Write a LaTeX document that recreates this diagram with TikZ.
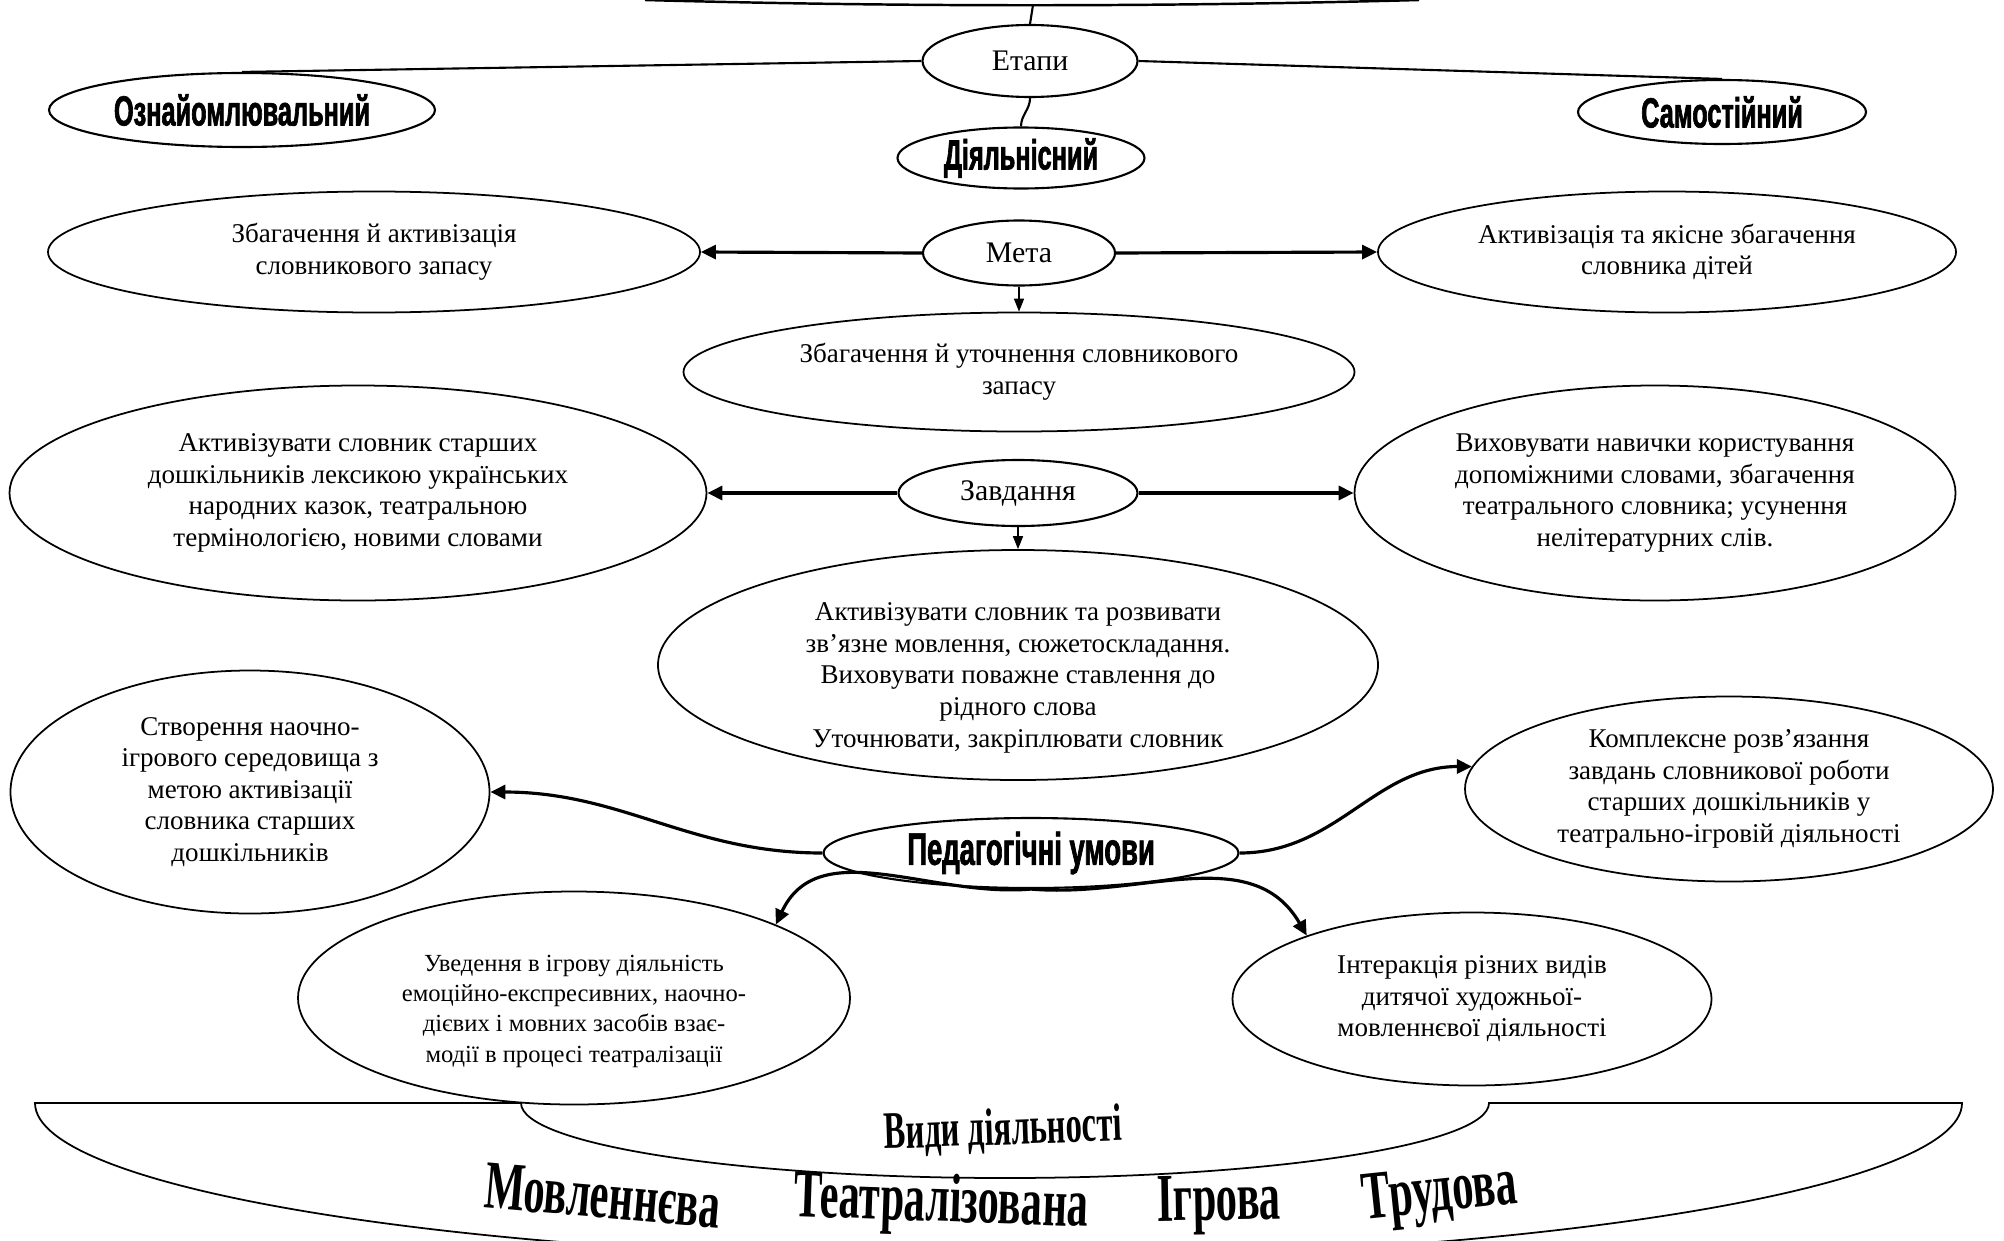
\documentclass[tikz,border=0pt]{standalone}
\usepackage{fontspec}
\setmainfont{Liberation Serif}
\newfontfamily\headfont[FakeStretch=0.6,BoldFeatures={FakeBold=1.5}]{Liberation Sans}
\newfontfamily\artfont[FakeStretch=0.62]{Liberation Serif}
\usetikzlibrary{shapes.geometric}
\usetikzlibrary{arrows.meta}
% lowers the text inside an ellipse without changing its size
\newcommand{\lowtext}[2]{\raisebox{-#1}[\height][\depth]{\begin{tabular}{@{}c@{}}#2\end{tabular}}}

\begin{document}
\begin{tikzpicture}
\useasboundingbox (0,0) rectangle (20.04,12.40);
\clip (0,0) rectangle (20.04,12.40);
% top edge and the bottom banner
\draw [line width=0.7pt] (6.45,12.40) .. controls (9.00,12.33) and (11.60,12.33) .. (14.19,12.40);
\coordinate (topmid) at (10.33,12.35);
\draw [line width=0.5pt] (0.35,1.37) -- (5.21,1.37)
    arc[start angle=180,end angle=360,x radius=4.84cm,y radius=0.75cm] -- (19.62,1.37)
    arc[start angle=0,end angle=-180,x radius=9.635cm,y radius=1.56cm] -- cycle;
\begin{scope}[every node/.style={ellipse,draw,line width=0.5pt,inner sep=0pt,align=center,
                  font=\fontsize{7.7}{9}\selectfont},
              stage/.style={line width=0.6pt,font=\headfont\bfseries\fontsize{12}{13}\selectfont},
              hub/.style={line width=0.6pt,font=\fontsize{8.5}{10}\selectfont}]
    \node [hub,minimum width=2.15cm,minimum height=0.72cm] (etapy) at (10.30, 11.79) {Етапи};
    \node [stage,minimum width=3.86cm,minimum height=0.74cm] (oznay) at (2.42, 11.30) {Ознайомлювальний};
    \node [stage,minimum width=2.88cm,minimum height=0.64cm] (samost) at (17.22, 11.28) {Самостійний};
    \node [stage,minimum width=2.47cm,minimum height=0.61cm] (diyal) at (10.21, 10.82) {Діяльнісний};
    \node [hub,minimum width=1.92cm,minimum height=0.65cm] (meta) at (10.19, 9.87) {Мета};
    \node [minimum width=6.52cm,minimum height=1.21cm] (goal_l) at (3.74, 9.88)
        {Збагачення й активізація\\словникового запасу};
    \node [minimum width=5.78cm,minimum height=1.21cm] (goal_r) at (16.67, 9.88)
        {Активізація та якісне збагачення\\словника дітей};
    \node [minimum width=6.71cm,minimum height=1.19cm] (goal_c) at (10.19, 8.68)
        {Збагачення й уточнення словникового\\запасу};
    \node [hub,minimum width=2.39cm,minimum height=0.66cm] (zavd) at (10.18, 7.47) {Завдання};
    \node [minimum width=6.97cm,minimum height=2.15cm] (task_l) at (3.58, 7.47)
        {Активізувати словник старших\\дошкільників лексикою українських\\народних казок, театральною\\термінологією, новими словами};
    \node [minimum width=6.01cm,minimum height=2.15cm] (task_r) at (16.55, 7.47)
        {Виховувати навички користування\\допоміжними словами, збагачення\\театрального словника; усунення\\нелітературних слів.};
    \node [minimum width=7.20cm,minimum height=2.30cm] (task_c) at (10.18, 5.75)
        {\lowtext{3.6pt}{Активізувати словник та розвивати\\зв’язне мовлення, сюжетоскладання.\\Виховувати поважне ставлення до\\рідного слова\\Уточнювати, закріплювати словник}};
    \node [stage,font=\headfont\bfseries\fontsize{13}{14}\selectfont,
           minimum width=4.15cm,minimum height=0.70cm] (umovy) at (10.31, 3.87) {Педагогічні умови};
    \node [minimum width=4.79cm,minimum height=2.43cm] (cond_l) at (2.50, 4.48)
        {Створення наочно-\\ігрового середовища з\\метою активізації\\словника старших\\дошкільників};
    \node [minimum width=5.28cm,minimum height=1.85cm] (cond_r) at (17.29, 4.51)
        {Комплексне розв’язання\\завдань словникової роботи\\старших дошкільників у\\театрально-ігровій діяльності};
    \node [font=\fontsize{7}{8.6}\selectfont,minimum width=5.52cm,minimum height=2.13cm] (cond_bl) at (5.74, 2.42)
        {\lowtext{3.6pt}{Уведення в ігрову діяльність\\емоційно-експресивних, наочно-\\дієвих і мовних засобів взає-\\модії в процесі театралізації}};
    \node [minimum width=4.79cm,minimum height=1.73cm] (cond_br) at (14.72, 2.41)
        {Інтеракція різних видів\\дитячої художньої-\\мовленнєвої діяльності};
\end{scope}
\begin{scope}[every node/.style={inner sep=0pt},
              word/.style={font=\artfont\bfseries\fontsize{19.5}{21}\selectfont}]
    \node [font=\artfont\bfseries\fontsize{15}{16}\selectfont,rotate=2] (kinds) at (10.03, 1.09) {Види діяльності};
    \node [word,rotate=-5] (w_speech) at (6.03, 0.44) {Мовленнєва};
    \node [word,rotate=-2] (w_theatre) at (9.41, 0.35) {Театралізована};
    \node [word,rotate=1] (w_game) at (12.19, 0.35) {Ігрова};
    \node [word,rotate=6] (w_labour) at (14.40, 0.44) {Трудова};
\end{scope}
\begin{scope}[>={Triangle[length=1.5mm,width=1.4mm]},
              link_edge/.style={draw=black,line width=0.6pt},
              bold_edge/.style={draw=black,line width=0.9pt},
              thin_edge/.style={draw=black,line width=0.45pt,-{Triangle[length=1.3mm,width=1.0mm]}}]
    \path (topmid) edge [link_edge] (etapy.north);
    \path (etapy.west) edge [link_edge] (oznay.north);
    \path (etapy.east) edge [link_edge] (samost.north);
    \path (etapy.south) edge [link_edge,out=-90,in=90] (diyal.north);
    \path [->] (meta.west) edge [bold_edge] (goal_l.east);
    \path [->] (meta.east) edge [bold_edge] (goal_r.west);
    \path (meta.south) edge [thin_edge] (goal_c.north);
    \path [->] (zavd.west) edge [bold_edge] (task_l.east);
    \path [->] (zavd.east) edge [bold_edge] (task_r.west);
    \path (zavd.south) edge [thin_edge] (task_c.north);
    \path [->] (umovy.west) edge [bold_edge,out=180,in=0] (cond_l.east);
    \path [->] (umovy.east) edge [bold_edge,out=0,in=180] (cond_r.175);
    \path [->] (umovy.south) edge [bold_edge,out=185,in=65] (cond_bl.20);
    \path [->] (umovy.south) edge [bold_edge,out=-5,in=120] (cond_br.159);
\end{scope}
\end{tikzpicture}
\end{document}
